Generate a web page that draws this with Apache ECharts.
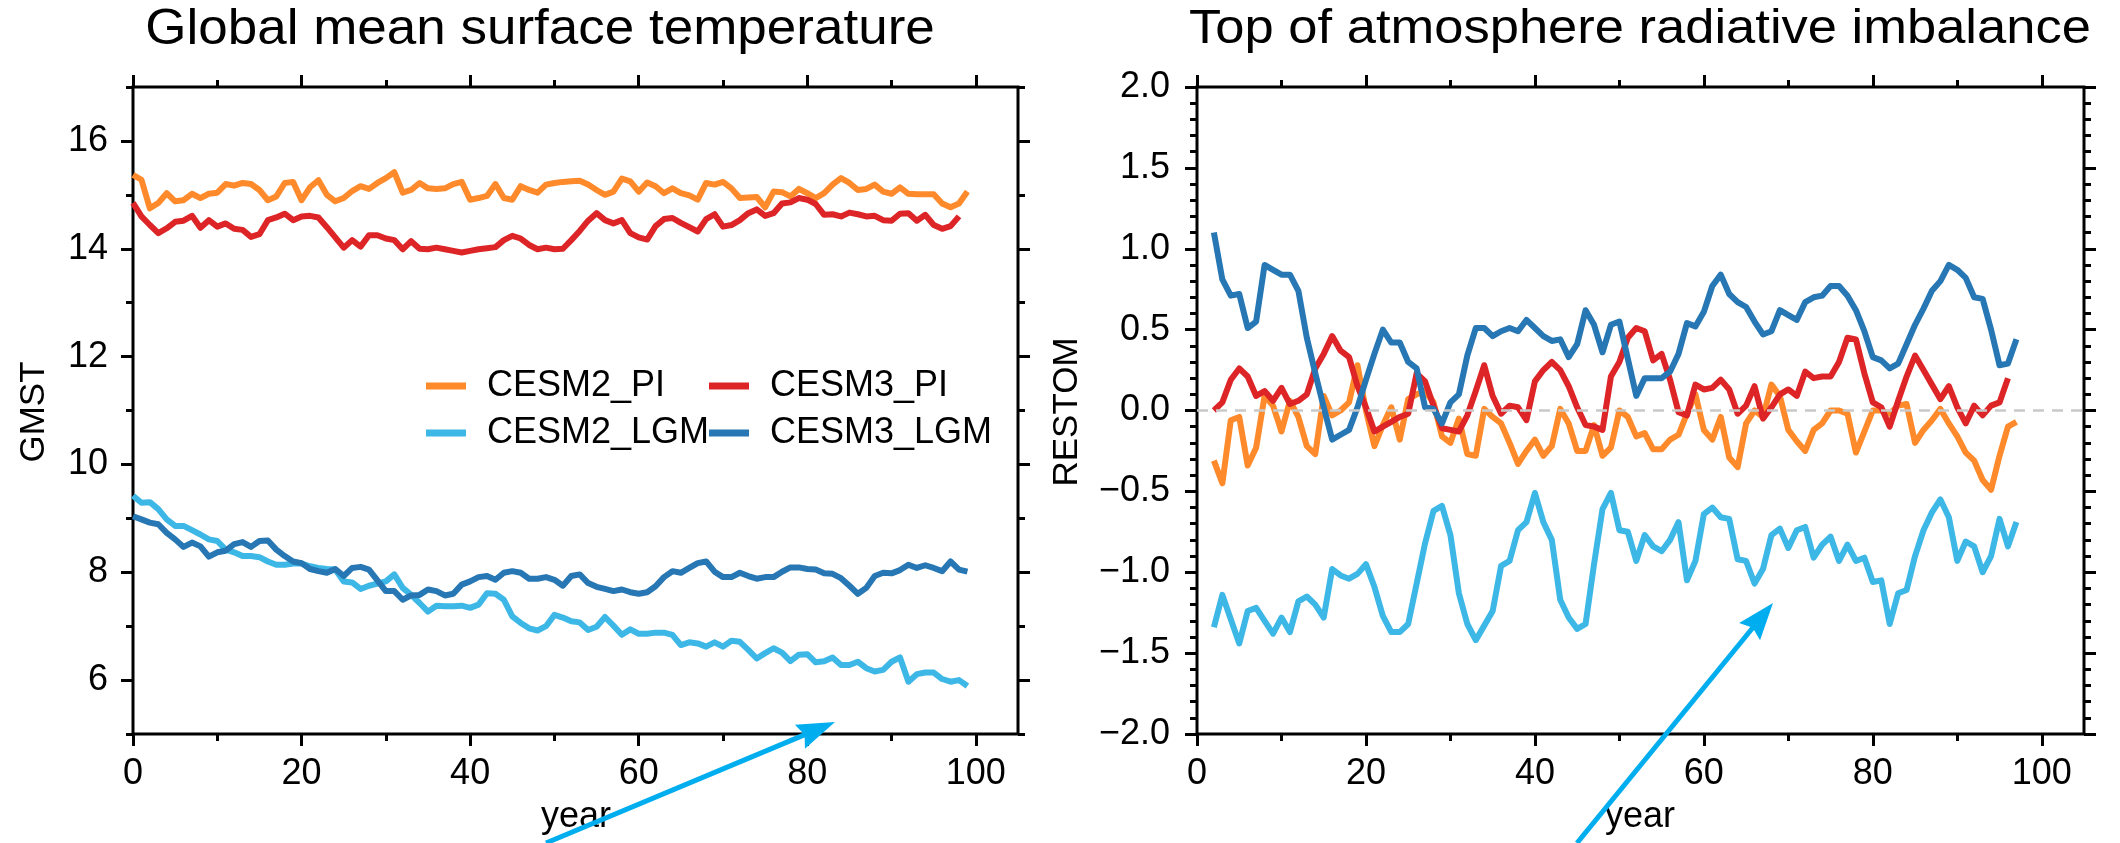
<!DOCTYPE html>
<html>
<head>
<meta charset="utf-8">
<script src="https://cdn.jsdelivr.net/npm/echarts@6/dist/echarts.min.js"></script>
<style>
  html, body { margin: 0; padding: 0; background: #ffffff; }
  #chart { width: 2120px; height: 843px; }
</style>
</head>
<body>
<div id="chart"></div>
<script>
// ---- Global mean surface temperature (GMST, degC) ----
const gmstYears = [0,1,2,3,4,5,6,7,8,9,10,11,12,13,14,15,16,17,18,19,20,21,22,23,24,25,26,27,28,29,30,31,32,33,34,35,36,37,38,39,40,41,42,43,44,45,46,47,48,49,50,51,52,53,54,55,56,57,58,59,60,61,62,63,64,65,66,67,68,69,70,71,72,73,74,75,76,77,78,79,80,81,82,83,84,85,86,87,88,89,90,91,92,93,94,95,96,97,98,99];

const cesm2PiGmst = [15.37,15.28,14.75,14.85,15.03,14.88,14.90,15.02,14.94,15.02,15.04,15.20,15.17,15.22,15.20,15.09,14.90,14.97,15.22,15.24,14.90,15.14,15.27,15.00,14.88,14.94,15.07,15.16,15.11,15.22,15.31,15.42,15.04,15.09,15.22,15.12,15.11,15.12,15.20,15.24,14.91,14.94,14.98,15.20,14.94,14.91,15.16,15.09,15.04,15.19,15.22,15.24,15.25,15.26,15.19,15.09,15.00,15.06,15.30,15.25,15.06,15.23,15.16,15.03,15.12,15.03,14.99,14.91,15.22,15.19,15.24,15.12,14.94,14.95,14.96,14.77,15.06,15.05,14.97,15.11,15.03,14.94,15.03,15.19,15.31,15.22,15.09,15.11,15.19,15.06,15.02,15.14,15.02,15.01,15.01,15.01,14.84,14.77,14.84,15.06];

const cesm3PiGmst = [14.85,14.60,14.44,14.29,14.38,14.50,14.52,14.61,14.39,14.53,14.41,14.47,14.37,14.35,14.22,14.27,14.53,14.58,14.65,14.53,14.60,14.61,14.58,14.40,14.21,14.02,14.16,14.04,14.25,14.25,14.19,14.16,13.99,14.14,14.00,13.99,14.02,13.99,13.96,13.93,13.96,13.99,14.01,14.03,14.16,14.24,14.19,14.07,13.99,14.02,13.99,14.00,14.16,14.33,14.52,14.66,14.53,14.47,14.53,14.29,14.21,14.17,14.42,14.55,14.57,14.48,14.40,14.32,14.55,14.64,14.41,14.44,14.53,14.66,14.73,14.61,14.66,14.84,14.86,14.94,14.91,14.83,14.63,14.64,14.60,14.67,14.64,14.60,14.61,14.53,14.52,14.65,14.66,14.52,14.63,14.44,14.37,14.42,14.60];

const cesm2LgmGmst = [9.42,9.29,9.30,9.17,8.98,8.86,8.86,8.78,8.70,8.61,8.58,8.42,8.37,8.30,8.30,8.28,8.20,8.14,8.14,8.16,8.16,8.11,8.08,8.06,8.05,7.83,7.81,7.69,7.75,7.79,7.83,7.96,7.71,7.58,7.43,7.27,7.38,7.37,7.37,7.38,7.34,7.40,7.61,7.60,7.49,7.18,7.06,6.96,6.92,7.00,7.21,7.16,7.09,7.07,6.93,6.99,7.17,7.01,6.84,6.94,6.86,6.86,6.88,6.88,6.84,6.65,6.70,6.68,6.62,6.70,6.62,6.73,6.71,6.56,6.40,6.50,6.59,6.51,6.35,6.47,6.48,6.33,6.35,6.42,6.28,6.28,6.34,6.22,6.16,6.19,6.34,6.42,5.97,6.11,6.14,6.14,6.02,5.97,6.00,5.89];

const cesm3LgmGmst = [9.04,8.98,8.92,8.89,8.73,8.61,8.47,8.55,8.48,8.29,8.37,8.40,8.52,8.56,8.47,8.58,8.59,8.42,8.30,8.20,8.17,8.06,8.02,7.99,8.06,7.93,8.08,8.10,8.05,7.85,7.65,7.65,7.49,7.57,7.58,7.68,7.65,7.57,7.60,7.77,7.83,7.91,7.93,7.86,7.99,8.02,7.99,7.88,7.88,7.91,7.86,7.75,7.93,7.96,7.80,7.73,7.69,7.65,7.68,7.63,7.60,7.63,7.74,7.91,8.02,7.99,8.08,8.17,8.20,8.01,7.91,7.91,7.99,7.93,7.88,7.91,7.91,8.01,8.09,8.09,8.06,8.05,7.98,7.97,7.89,7.75,7.60,7.71,7.93,7.99,7.98,8.04,8.14,8.08,8.13,8.08,8.02,8.20,8.05,8.01];

// ---- Top of atmosphere radiative imbalance (RESTOM, W m-2) ----
const restomYears = [2,3,4,5,6,7,8,9,10,11,12,13,14,15,16,17,18,19,20,21,22,23,24,25,26,27,28,29,30,31,32,33,34,35,36,37,38,39,40,41,42,43,44,45,46,47,48,49,50,51,52,53,54,55,56,57,58,59,60,61,62,63,64,65,66,67,68,69,70,71,72,73,74,75,76,77,78,79,80,81,82,83,84,85,86,87,88,89,90,91,92,93,94,95,96,97];

const cesm2PiRestom = [-0.31,-0.45,-0.06,-0.04,-0.34,-0.23,0.09,0.03,-0.13,0.06,-0.04,-0.22,-0.27,0.09,-0.03,0.00,0.05,0.28,0.00,-0.22,-0.09,0.02,-0.18,0.07,0.10,0.12,0.05,-0.16,-0.20,-0.05,-0.27,-0.28,0.01,-0.04,-0.08,-0.20,-0.33,-0.25,-0.18,-0.28,-0.22,0.01,-0.08,-0.25,-0.25,-0.09,-0.28,-0.23,0.00,-0.04,-0.16,-0.14,-0.24,-0.24,-0.18,-0.15,-0.02,0.10,-0.12,-0.18,-0.04,-0.29,-0.35,-0.08,0.00,-0.04,0.16,0.09,-0.12,-0.19,-0.25,-0.12,-0.08,0.00,0.00,-0.02,-0.26,-0.13,0.00,0.00,-0.02,0.03,0.04,-0.20,-0.12,-0.06,0.01,-0.08,-0.16,-0.26,-0.31,-0.43,-0.49,-0.28,-0.10,-0.07];

const cesm3PiRestom = [0.00,0.05,0.19,0.26,0.21,0.09,0.12,0.06,0.14,0.04,0.06,0.10,0.26,0.35,0.46,0.37,0.33,0.15,0.02,-0.13,-0.10,-0.07,-0.04,-0.02,0.23,0.18,0.03,-0.11,-0.12,-0.13,-0.03,0.12,0.28,0.09,-0.02,0.03,0.02,-0.06,0.18,0.25,0.30,0.25,0.15,0.02,-0.09,-0.10,-0.12,0.21,0.30,0.45,0.51,0.49,0.31,0.35,0.19,-0.01,-0.03,0.16,0.13,0.14,0.19,0.13,-0.02,0.03,0.15,-0.05,0.02,0.10,0.13,0.09,0.24,0.20,0.21,0.21,0.30,0.45,0.44,0.23,0.05,0.02,-0.10,0.06,0.21,0.34,0.25,0.16,0.07,0.15,0.02,-0.08,0.03,-0.03,0.03,0.05,0.20];

const cesm2LgmRestom = [-1.34,-1.14,-1.29,-1.44,-1.24,-1.22,-1.30,-1.38,-1.28,-1.37,-1.18,-1.15,-1.20,-1.28,-0.98,-1.02,-1.04,-1.01,-0.95,-1.09,-1.27,-1.37,-1.37,-1.32,-1.07,-0.82,-0.62,-0.59,-0.77,-1.13,-1.32,-1.42,-1.33,-1.24,-0.96,-0.93,-0.74,-0.69,-0.51,-0.69,-0.80,-1.17,-1.28,-1.35,-1.32,-0.95,-0.61,-0.51,-0.74,-0.75,-0.93,-0.77,-0.84,-0.87,-0.80,-0.69,-1.05,-0.93,-0.64,-0.60,-0.66,-0.67,-0.92,-0.93,-1.07,-0.98,-0.77,-0.73,-0.85,-0.74,-0.72,-0.91,-0.83,-0.78,-0.93,-0.83,-0.93,-0.91,-1.06,-1.05,-1.32,-1.13,-1.11,-0.90,-0.74,-0.63,-0.55,-0.66,-0.93,-0.81,-0.84,-1.00,-0.90,-0.67,-0.84,-0.69];

const cesm3LgmRestom = [1.10,0.81,0.71,0.72,0.51,0.55,0.90,0.87,0.84,0.84,0.74,0.45,0.23,0.02,-0.18,-0.15,-0.12,0.02,0.19,0.35,0.50,0.42,0.42,0.30,0.26,0.02,0.01,-0.08,0.05,0.10,0.34,0.51,0.51,0.46,0.49,0.51,0.49,0.56,0.51,0.46,0.43,0.44,0.33,0.41,0.62,0.53,0.36,0.53,0.55,0.32,0.09,0.20,0.20,0.20,0.24,0.35,0.54,0.52,0.61,0.77,0.84,0.72,0.67,0.64,0.55,0.47,0.49,0.62,0.59,0.56,0.67,0.70,0.71,0.77,0.77,0.71,0.62,0.49,0.33,0.31,0.26,0.29,0.41,0.53,0.63,0.74,0.80,0.90,0.87,0.82,0.70,0.69,0.50,0.28,0.29,0.44];

// ---- Axis ticks and labels ----
const yearMajorTicks = [0, 20, 40, 60, 80, 100];
const yearMinorTicks = [10, 30, 50, 70, 90];
const gmstMajorTicks = [6, 8, 10, 12, 14, 16];
const gmstMinorTicks = [5, 7, 9, 11, 13, 15, 17];

const seriesNames = ['CESM2_PI', 'CESM3_PI', 'CESM2_LGM', 'CESM3_LGM'];
const seriesColors = ['#FF8A2B', '#DD2427', '#3DB7E6', '#2677B3'];

const FONT = "'Liberation Sans', Arial, Helvetica, sans-serif";
const ARROW = '#00AEEF';

function pairs(xs, ys) { return ys.map((v, i) => [xs[i], v]); }

const chart = echarts.init(document.getElementById('chart'), null, { renderer: 'canvas' });

const frame = { show: true, borderColor: '#000', borderWidth: 3, backgroundColor: 'transparent' };
const grids = [
  Object.assign({ left: 133, top: 87, width: 885, height: 647, outerBoundsMode: 'none' }, frame),
  Object.assign({ left: 1197, top: 87, width: 887, height: 647, outerBoundsMode: 'none' }, frame)
];

const labelStyle = { color: '#000', fontSize: 36, fontFamily: FONT };
const tickLine = { color: '#000', width: 3 };
const noLine = { show: false, onZero: false };

function xAxes(gridIndex) {
  const base = { type: 'value', gridIndex, min: 0, max: 105, splitLine: { show: false }, axisLine: noLine };
  const ticks = (len, values) => ({ show: true, inside: false, length: len, customValues: values, lineStyle: tickLine });
  return [
    Object.assign({}, base, { position: 'bottom', axisTick: ticks(12, yearMajorTicks),
      axisLabel: Object.assign({ show: true, margin: 22, customValues: yearMajorTicks }, labelStyle) }),
    Object.assign({}, base, { position: 'bottom', axisTick: ticks(7, yearMinorTicks), axisLabel: { show: false } }),
    Object.assign({}, base, { position: 'top', axisTick: ticks(12, yearMajorTicks), axisLabel: { show: false } }),
    Object.assign({}, base, { position: 'top', axisTick: ticks(7, yearMinorTicks), axisLabel: { show: false } })
  ];
}

function gmstYAxes() {
  const base = { type: 'value', gridIndex: 0, min: 5, max: 17, splitLine: { show: false }, axisLine: noLine };
  const major = (pos, labels) => Object.assign({}, base, { position: pos,
    axisTick: { show: true, inside: false, length: 12, customValues: gmstMajorTicks, lineStyle: tickLine },
    axisLabel: labels ? Object.assign({ show: true, margin: 25, customValues: gmstMajorTicks }, labelStyle) : { show: false } });
  const minor = (pos) => Object.assign({}, base, { position: pos,
    axisTick: { show: true, inside: false, length: 7, customValues: gmstMinorTicks, lineStyle: tickLine },
    axisLabel: { show: false } });
  return [major('left', true), minor('left'), major('right', false), minor('right')];
}

function restomYAxes() {
  const base = { type: 'value', gridIndex: 1, min: -2, max: 2, interval: 0.5,
    splitLine: { show: false }, axisLine: noLine,
    axisTick: { show: true, inside: false, length: 12, lineStyle: tickLine },
    minorTick: { show: true, splitNumber: 5, length: 7, lineStyle: tickLine },
    minorSplitLine: { show: false } };
  return [
    Object.assign({}, base, { position: 'left',
      axisLabel: Object.assign({ show: true, margin: 27,
        formatter: v => (v < 0 ? '\u2212' : '') + Math.abs(v).toFixed(1) }, labelStyle) }),
    Object.assign({}, base, { position: 'right', axisLabel: { show: false } })
  ];
}

const xAxisList = xAxes(0).concat(xAxes(1));          // 0..3 left panel, 4..7 right panel
const yAxisList = gmstYAxes().concat(restomYAxes());  // 0..3 left panel, 4..5 right panel

function lineSeries(name, colorIdx, xIdx, yIdx, data, extra) {
  return Object.assign({
    name, type: 'line', xAxisIndex: xIdx, yAxisIndex: yIdx, data,
    showSymbol: false, symbol: 'none', smooth: false, animation: false,
    color: seriesColors[colorIdx],
    lineStyle: { color: seriesColors[colorIdx], width: 6, join: 'round' },
    emphasis: { disabled: true }, z: 3
  }, extra || {});
}

const zeroLine = {
  silent: true, symbol: ['none', 'none'], label: { show: false },
  lineStyle: { color: '#c9c9c9', type: [11, 8], width: 2.5 },
  data: [{ yAxis: 0 }], animation: false
};

const series = [
  lineSeries(seriesNames[0], 0, 0, 0, pairs(gmstYears, cesm2PiGmst)),
  lineSeries(seriesNames[1], 1, 0, 0, pairs(gmstYears, cesm3PiGmst)),
  lineSeries(seriesNames[2], 2, 0, 0, pairs(gmstYears, cesm2LgmGmst)),
  lineSeries(seriesNames[3], 3, 0, 0, pairs(gmstYears, cesm3LgmGmst)),
  lineSeries(seriesNames[0], 0, 4, 4, pairs(restomYears, cesm2PiRestom), { markLine: zeroLine }),
  lineSeries(seriesNames[1], 1, 4, 4, pairs(restomYears, cesm3PiRestom)),
  lineSeries(seriesNames[2], 2, 4, 4, pairs(restomYears, cesm2LgmRestom)),
  lineSeries(seriesNames[3], 3, 4, 4, pairs(restomYears, cesm3LgmRestom))
];

const legendBase = {
  orient: 'vertical', icon: 'rect', itemWidth: 40, itemHeight: 7, itemGap: 7,
  padding: 0, selectedMode: false, top: 366,
  textStyle: { color: '#000', fontSize: 36, fontFamily: FONT, lineHeight: 40, padding: [0, 0, 0, 16] }
};
const legends = [
  Object.assign({}, legendBase, { left: 426, data: [seriesNames[0], seriesNames[2]] }),
  Object.assign({}, legendBase, { left: 709, data: [seriesNames[1], seriesNames[3]] })
];

// Annotation arrows drawn over the panels
function arrowGraphic(x0, y0, x1, y1, headLen, headHalf) {
  const dx = x1 - x0, dy = y1 - y0, L = Math.hypot(dx, dy);
  const ux = dx / L, uy = dy / L, nx = -uy, ny = ux;
  const bx = x1 - ux * headLen, by = y1 - uy * headLen;
  return [
    { type: 'line', z: 100, shape: { x1: x0, y1: y0, x2: bx + ux * 6, y2: by + uy * 6 },
      style: { stroke: ARROW, lineWidth: 5 } },
    { type: 'polygon', z: 100,
      shape: { points: [[x1, y1], [bx + nx * headHalf, by + ny * headHalf], [bx + ux * 5, by + uy * 5], [bx - nx * headHalf, by - ny * headHalf]] },
      style: { fill: ARROW } }
  ];
}

function text(str, x, y, size, opts) {
  return Object.assign({ type: 'text', z: 50, x, y,
    style: { text: str, fill: '#000', font: size + 'px ' + FONT, textAlign: 'center', textVerticalAlign: 'middle' } }, opts || {});
}

const graphics = [
  text('Global mean surface temperature', 540, 30, 53, { scaleY: 0.93 }),
  text('Top of atmosphere radiative imbalance', 1640, 30, 52.5, { scaleY: 0.93 }),
  text('year', 576, 817, 36),
  text('year', 1640, 817, 36),
  text('GMST', 34, 412, 35, { rotation: Math.PI / 2 }),
  text('RESTOM', 1067, 412, 35, { rotation: Math.PI / 2 })
].concat(arrowGraphic(546, 843, 835, 722, 38, 13))
 .concat(arrowGraphic(1577, 843, 1773, 603, 37, 13.5));

chart.setOption({
  backgroundColor: '#ffffff',
  animation: false,
  textStyle: { fontFamily: FONT },
  grid: grids,
  xAxis: xAxisList,
  yAxis: yAxisList,
  legend: legends,
  series,
  graphic: graphics
});
</script>
</body>
</html>
